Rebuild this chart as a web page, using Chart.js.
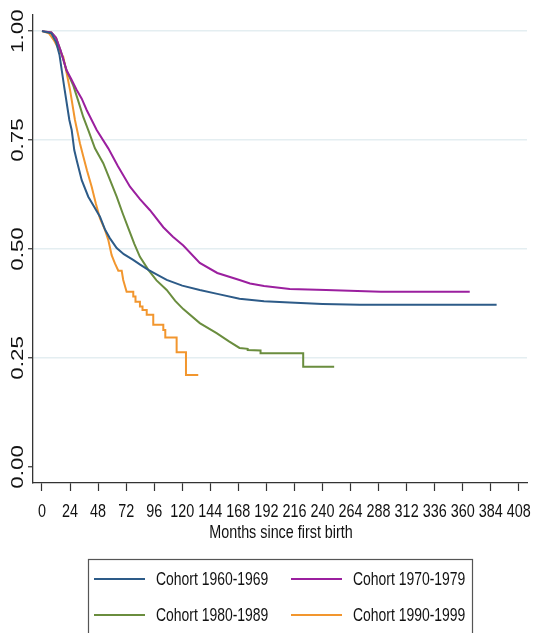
<!DOCTYPE html>
<html>
<head>
<meta charset="utf-8">
<script src="https://cdn.jsdelivr.net/npm/chart.js@4/dist/chart.umd.min.js"></script>
<style>
    body { margin: 0; background: #ffffff; }
    #wrap { width: 533px; height: 633px; }
</style>
</head>
<body>
<div id="wrap"><canvas id="SurvivalChart" width="533" height="633"></canvas></div>
<script>
// Kaplan-Meier curves (months since first birth, share surviving)
const cohortLabels = ["Cohort 1960-1969", "Cohort 1970-1979", "Cohort 1980-1989", "Cohort 1990-1999"];
const cohortColors = ["#2d5b88", "#9b1f9f", "#6a8d3e", "#f2962e"];

const months1960 = [0, 8, 12, 15, 19, 23.4, 25.4, 27.6, 30, 34, 39.6, 44, 49.6, 54, 58, 63.9, 70, 78, 84, 91, 98, 106.7, 120, 135, 150, 169, 190, 212, 240, 272, 320, 389];
const surv1960 = [1.0, 0.995, 0.975, 0.945, 0.872, 0.796, 0.773, 0.727, 0.70, 0.658, 0.62, 0.60, 0.574, 0.544, 0.525, 0.502, 0.488, 0.475, 0.464, 0.452, 0.442, 0.429, 0.416, 0.406, 0.397, 0.386, 0.380, 0.377, 0.374, 0.372, 0.372, 0.372];

const months1970 = [0, 8, 12, 16, 21, 25, 29.7, 34, 38.2, 46.8, 56.7, 65, 75.3, 84, 92.4, 103.8, 112, 120.9, 135, 150, 169, 178, 190, 212, 243, 290, 366];
const surv1970 = [1.0, 0.997, 0.985, 0.955, 0.91, 0.89, 0.865, 0.845, 0.819, 0.773, 0.731, 0.69, 0.643, 0.614, 0.589, 0.55, 0.528, 0.508, 0.468, 0.445, 0.429, 0.421, 0.415, 0.408, 0.406, 0.402, 0.402];

const months1980 = [0, 8, 12, 16, 21, 26.8, 31, 35.3, 39.6, 45.3, 52.4, 58, 63.9, 69, 74, 79, 83.8, 91, 98, 106.7, 114, 120.9, 135, 149.4, 160, 169, 176, 176, 187, 187, 223.5, 223.5, 250];
const surv1980 = [1.0, 0.997, 0.985, 0.955, 0.91, 0.875, 0.84, 0.803, 0.773, 0.731, 0.697, 0.66, 0.62, 0.582, 0.547, 0.512, 0.482, 0.452, 0.428, 0.406, 0.381, 0.362, 0.33, 0.307, 0.288, 0.273, 0.271, 0.268, 0.267, 0.261, 0.261, 0.23, 0.23];

const months1990 = [0, 6, 10, 14, 18.2, 21, 24, 28.2, 32.5, 35.3, 38.5, 42.5, 46, 49.6, 53.9, 56.7, 59.6, 62.4, 65.3, 68.2, 69.5, 72.4, 78.1, 78.1, 80, 80, 83.8, 83.8, 86, 86, 89.6, 89.6, 95.2, 95.2, 103.8, 103.8, 105.5, 105.5, 115.2, 115.2, 123.2, 123.2, 133.7];
const surv1990 = [1.0, 0.995, 0.98, 0.96, 0.941, 0.905, 0.865, 0.796, 0.742, 0.713, 0.68, 0.643, 0.605, 0.57, 0.544, 0.521, 0.486, 0.467, 0.45, 0.45, 0.429, 0.402, 0.402, 0.391, 0.391, 0.379, 0.379, 0.368, 0.368, 0.36, 0.36, 0.349, 0.349, 0.326, 0.326, 0.314, 0.314, 0.297, 0.297, 0.263, 0.263, 0.211, 0.211];

const xTickValues = [0, 24, 48, 72, 96, 120, 144, 168, 192, 216, 240, 264, 288, 312, 336, 360, 384, 408];
const yTickValues = [0, 0.25, 0.5, 0.75, 1];
const xAxisTitle = "Months since first birth";

const allMonths = [months1960, months1970, months1980, months1990];
const allSurv = [surv1960, surv1970, surv1980, surv1990];

const textFont = '"Liberation Sans", Arial, sans-serif';

function buildPoints(months, surv) {
    let points = [];
    for (let i = 0; i < months.length; i++) {
        points.push({ x: months[i], y: surv[i] });
    }
    return points;
}

let datasets = [];
for (let i = 0; i < cohortLabels.length; i++) {
    datasets.push({
        label: cohortLabels[i],
        data: buildPoints(allMonths[i], allSurv[i]),
        borderColor: cohortColors[i],
        backgroundColor: cohortColors[i],
        borderWidth: 2,
        pointRadius: 0,
        tension: 0,
        fill: false
    });
}

/**
 * Draws text squeezed/stretched like the original Stata export
 */
function drawScaledText(ctx, text, x, y, sx, sy, rotation, align) {
    ctx.save();
    ctx.translate(x, y);
    ctx.rotate(rotation);
    ctx.scale(sx, sy);
    ctx.textAlign = align;
    ctx.textBaseline = 'middle';
    ctx.fillText(text, 0, 0);
    ctx.restore();
}

// Axis labels (narrow on x, tall on y) and the boxed two column legend
const stataText = {
    id: 'stataText',
    afterDraw(chart) {
        const ctx = chart.ctx;
        const xScale = chart.scales.x;
        const yScale = chart.scales.y;
        ctx.save();
        ctx.fillStyle = '#111111';

        ctx.font = '18px ' + textFont;
        for (let i = 0; i < xTickValues.length; i++) {
            drawScaledText(ctx, String(xTickValues[i]), xScale.getPixelForValue(xTickValues[i]), 512, 0.8, 1.06, 0, 'center');
        }
        ctx.font = '17.5px ' + textFont;
        drawScaledText(ctx, xAxisTitle, (xScale.left + xScale.right) / 2 + 1, 533, 0.82, 1.06, 0, 'center');

        ctx.font = '16px ' + textFont;
        for (let i = 0; i < yTickValues.length; i++) {
            drawScaledText(ctx, yTickValues[i].toFixed(2), 18.5, yScale.getPixelForValue(yTickValues[i]), 1.4, 1, -Math.PI / 2, 'center');
        }

        ctx.strokeStyle = '#555555';
        ctx.lineWidth = 1.2;
        ctx.strokeRect(88.5, 559.5, 384, 100);
        ctx.font = '17px ' + textFont;
        for (let i = 0; i < chart.data.datasets.length; i++) {
            let ds = chart.data.datasets[i];
            let x0 = (i % 2 == 0) ? 94 : 291;
            let y0 = (i < 2) ? 579 : 615;
            ctx.strokeStyle = ds.borderColor;
            ctx.lineWidth = 2;
            ctx.beginPath();
            ctx.moveTo(x0, y0);
            ctx.lineTo(x0 + 51, y0);
            ctx.stroke();
            drawScaledText(ctx, ds.label, x0 + 62, y0 + 1, 0.82, 1.08, 0, 'left');
        }
        ctx.restore();
    }
};

const config = {
    type: 'line',
    data: { datasets: datasets },
    options: {
        responsive: false,
        animation: false,
        devicePixelRatio: 1,
        layout: { padding: { top: 15, right: 6, bottom: 90, left: 0 } },
        plugins: {
            legend: { display: false },
            tooltip: { enabled: false }
        },
        scales: {
            x: {
                type: 'linear',
                min: -7.7,
                max: 415,
                afterBuildTicks: function (scale) {
                    scale.ticks = xTickValues.map(v => ({ value: v }));
                },
                afterFit: function (scale) {
                    scale.height = 60;
                },
                border: { display: true, color: '#333333', width: 1.3 },
                grid: { drawOnChartArea: false, tickLength: 8, tickColor: '#333333', tickWidth: 1.2 },
                ticks: { display: false }
            },
            y: {
                min: -0.037,
                max: 1.037,
                afterBuildTicks: function (scale) {
                    scale.ticks = yTickValues.map(v => ({ value: v }));
                },
                afterFit: function (scale) {
                    scale.width = 33;
                },
                border: { display: true, color: '#333333', width: 1.3 },
                grid: {
                    color: (ctx) => (ctx.tick && ctx.tick.value == 0 ? 'rgba(0,0,0,0)' : '#e4eef1'),
                    lineWidth: 1.5,
                    tickLength: 5,
                    tickColor: '#333333',
                    tickWidth: 1.2
                },
                ticks: { display: false }
            }
        }
    },
    plugins: [stataText]
};

const survivalChart = new Chart(document.getElementById("SurvivalChart"), config);
</script>
</body>
</html>
